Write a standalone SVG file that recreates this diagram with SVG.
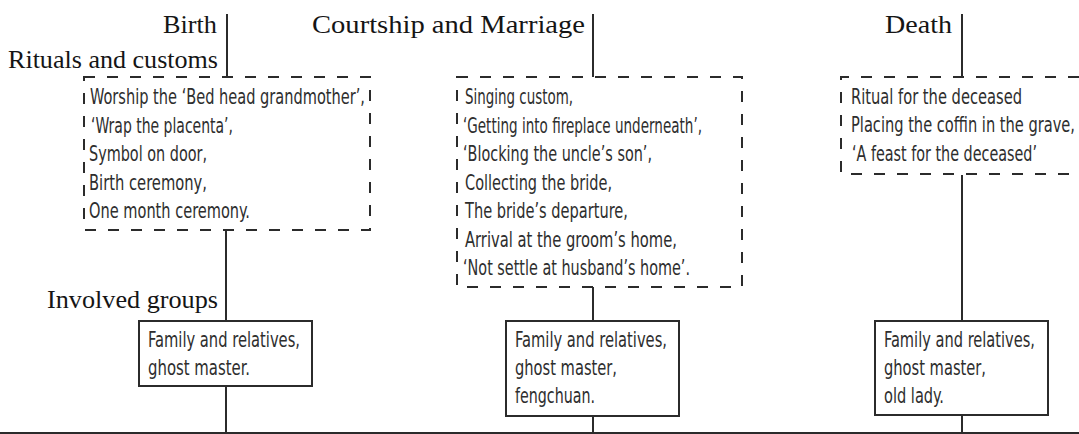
<svg xmlns="http://www.w3.org/2000/svg" width="1079" height="434" viewBox="0 0 1079 434">
  <style>
    .hdr { font-family: "Liberation Serif", "DejaVu Serif", serif; font-size: 25px; fill: #151515; }
    .item { font-family: "DejaVu Sans Condensed", "DejaVu Sans", sans-serif; font-stretch: condensed; font-size: 21px; fill: #2e2e2e; }
    .dash { fill: none; stroke: #2b2b2b; stroke-width: 2; stroke-dasharray: 11 12; }
    .solid { fill: #fff; stroke: #2b2b2b; stroke-width: 2; }
    .wire { stroke: #2b2b2b; stroke-width: 2; fill: none; }
  </style>
  <rect width="1079" height="434" fill="#fff"/>

  <!-- connectors: stage markers, links to group boxes, base line -->
  <g id="connectors">
    <line class="wire" x1="227" y1="14" x2="227" y2="77"/>
    <line class="wire" x1="593" y1="14" x2="593" y2="77"/>
    <line class="wire" x1="962" y1="14" x2="962" y2="77"/>
    <line class="wire" x1="226" y1="230" x2="226" y2="433"/>
    <line class="wire" x1="593" y1="287" x2="593" y2="433"/>
    <line class="wire" x1="962" y1="175" x2="962" y2="433"/>
    <line class="wire" x1="0" y1="433" x2="1079" y2="433"/>
  </g>

  <!-- row labels -->
  <g id="labels">
    <text class="hdr" x="8" y="68" textLength="210" lengthAdjust="spacingAndGlyphs">Rituals and customs</text>
    <text class="hdr" x="47" y="308" textLength="171" lengthAdjust="spacingAndGlyphs">Involved groups</text>
  </g>

  <!-- stage titles -->
  <g id="stage-birth">
    <text class="hdr" x="163" y="33" textLength="54" lengthAdjust="spacingAndGlyphs">Birth</text>
  </g>
  <g id="stage-marriage">
    <text class="hdr" x="312" y="33" textLength="273" lengthAdjust="spacingAndGlyphs">Courtship and Marriage</text>
  </g>
  <g id="stage-death">
    <text class="hdr" x="885" y="33" textLength="67" lengthAdjust="spacingAndGlyphs">Death</text>
  </g>

  <!-- rituals: birth -->
  <g id="rituals-birth">
    <rect class="dash" x="84" y="77" width="286" height="153"/>
    <text class="item" x="90" y="104" textLength="275" lengthAdjust="spacingAndGlyphs">Worship the ‘Bed head grandmother’,</text>
    <text class="item" x="91" y="132.5" textLength="142" lengthAdjust="spacingAndGlyphs">‘Wrap the placenta’,</text>
    <text class="item" x="89" y="161" textLength="118" lengthAdjust="spacingAndGlyphs">Symbol on door,</text>
    <text class="item" x="89" y="189.5" textLength="118" lengthAdjust="spacingAndGlyphs">Birth ceremony,</text>
    <text class="item" x="89" y="218" textLength="161" lengthAdjust="spacingAndGlyphs">One month ceremony.</text>
  </g>

  <!-- rituals: courtship and marriage -->
  <g id="rituals-marriage">
    <rect class="dash" x="457" y="77" width="285" height="210"/>
    <text class="item" x="465" y="104" textLength="108" lengthAdjust="spacingAndGlyphs">Singing custom,</text>
    <text class="item" x="463" y="132.5" textLength="239" lengthAdjust="spacingAndGlyphs">‘Getting into fireplace underneath’,</text>
    <text class="item" x="463" y="161" textLength="189" lengthAdjust="spacingAndGlyphs">‘Blocking the uncle’s son’,</text>
    <text class="item" x="465" y="189.5" textLength="147" lengthAdjust="spacingAndGlyphs">Collecting the bride,</text>
    <text class="item" x="465" y="218" textLength="163" lengthAdjust="spacingAndGlyphs">The bride’s departure,</text>
    <text class="item" x="465" y="246.5" textLength="212" lengthAdjust="spacingAndGlyphs">Arrival at the groom’s home,</text>
    <text class="item" x="463" y="275" textLength="227" lengthAdjust="spacingAndGlyphs">‘Not settle at husband’s home’.</text>
  </g>

  <!-- rituals: death (box open on the right, running to the edge) -->
  <g id="rituals-death">
    <path class="dash" d="M1079 77 H841 V174 H1079"/>
    <!-- horizontally narrowed so the long lines stay clear of the right edge -->
    <g transform="translate(851 0) scale(0.7 1)">
      <text class="item" x="0" y="104" textLength="244.3" lengthAdjust="spacingAndGlyphs">Ritual for the deceased</text>
      <text class="item" x="0" y="132.5" textLength="320" lengthAdjust="spacingAndGlyphs">Placing the coffin in the grave,</text>
      <text class="item" x="1.43" y="161" textLength="264.3" lengthAdjust="spacingAndGlyphs">‘A feast for the deceased’</text>
    </g>
  </g>

  <!-- involved groups -->
  <g id="groups-birth">
    <rect class="solid" x="139" y="321" width="173" height="65"/>
    <text class="item" x="148" y="347" textLength="152" lengthAdjust="spacingAndGlyphs">Family and relatives,</text>
    <text class="item" x="148" y="375" textLength="102" lengthAdjust="spacingAndGlyphs">ghost master.</text>
  </g>
  <g id="groups-marriage">
    <rect class="solid" x="506" y="321" width="173" height="95"/>
    <text class="item" x="515" y="347" textLength="152" lengthAdjust="spacingAndGlyphs">Family and relatives,</text>
    <text class="item" x="515" y="375" textLength="102" lengthAdjust="spacingAndGlyphs">ghost master,</text>
    <text class="item" x="515" y="403" textLength="80" lengthAdjust="spacingAndGlyphs">fengchuan.</text>
  </g>
  <g id="groups-death">
    <rect class="solid" x="875" y="321" width="173" height="94"/>
    <text class="item" x="884" y="347" textLength="151" lengthAdjust="spacingAndGlyphs">Family and relatives,</text>
    <text class="item" x="884" y="375" textLength="102" lengthAdjust="spacingAndGlyphs">ghost master,</text>
    <text class="item" x="884" y="403" textLength="60" lengthAdjust="spacingAndGlyphs">old lady.</text>
  </g>
</svg>
